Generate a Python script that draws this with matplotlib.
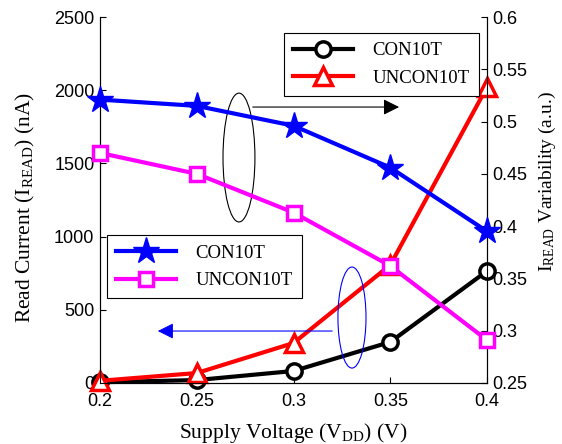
import matplotlib
matplotlib.use("Agg")
import matplotlib.pyplot as plt
from matplotlib.patches import Ellipse

plt.rcParams["font.family"] = "Liberation Sans"
plt.rcParams["mathtext.fontset"] = "custom"
plt.rcParams["mathtext.rm"] = "Liberation Serif"
plt.rcParams["mathtext.it"] = "Liberation Serif:italic"

# supply voltage (V)
vdd = [0.2, 0.25, 0.3, 0.35, 0.4]

# read current (nA), left axis
read_con10t = [5, 20, 82, 280, 765]
read_uncon10t = [15, 68, 273, 806, 2022]

# read current variability (a.u.), right axis
var_con10t = [0.521, 0.515, 0.496, 0.456, 0.395]
var_uncon10t = [0.470, 0.450, 0.413, 0.362, 0.291]

x_ticks = [0.2, 0.25, 0.3, 0.35, 0.4]
x_ticklabels = ["0.2", "0.25", "0.3", "0.35", "0.4"]
left_ticks = [0, 500, 1000, 1500, 2000, 2500]
left_ticklabels = ["0", "500", "1000", "1500", "2000", "2500"]
right_ticks = [0.25, 0.3, 0.35, 0.4, 0.45, 0.5, 0.55, 0.6]
right_ticklabels = ["0.25", "0.3", "0.35", "0.4", "0.45", "0.5", "0.55", "0.6"]

SERIF = "Liberation Serif"

fig = plt.figure(figsize=(5.62, 4.44), dpi=100)
ax = fig.add_axes([0.178, 0.1374, 0.6886, 0.8243])
ax2 = ax.twinx()

l_con, = ax.plot(vdd, read_con10t, "-o", color="black", lw=3, ms=11,
                 mfc="white", mew=2.5, clip_on=False, zorder=3)
l_uncon, = ax.plot(vdd, read_uncon10t, "-^", color="red", lw=3, ms=13,
                   mfc="white", mew=2.5, clip_on=False, zorder=4)
l_vcon, = ax2.plot(vdd, var_con10t, "-*", color="blue", lw=3, ms=20,
                   clip_on=False, zorder=3)
l_vuncon, = ax2.plot(vdd, var_uncon10t, "-s", color="magenta", lw=3, ms=10,
                     mfc="white", mew=2.5, clip_on=False, zorder=3)

ax.set_xlim(0.2, 0.4)
ax.set_ylim(0, 2500)
ax2.set_ylim(0.25, 0.6)
ax.set_xticks(x_ticks)
ax.set_xticklabels(x_ticklabels)
ax.set_yticks(left_ticks)
ax.set_yticklabels(left_ticklabels)
ax2.set_yticks(right_ticks)
ax2.set_yticklabels(right_ticklabels)

ax.tick_params(axis="x", direction="in", length=4, pad=7, labelsize=13)
ax.tick_params(axis="y", direction="in", length=4, pad=4, labelsize=13)
ax2.tick_params(axis="y", direction="in", length=4, pad=4, labelsize=13)
for a in (ax, ax2):
    a.spines["top"].set_visible(False)

ax.set_xlabel(r"Supply Voltage (V$_{\mathrm{DD}}$) (V)", family=SERIF, fontsize=15.5)
ax.set_ylabel(r"Read Current (I$_{\mathrm{READ}}$) (nA)", family=SERIF, fontsize=15.5)
ax2.set_ylabel(r"I$_{\mathrm{READ}}$ Variability (a.u.)", family=SERIF, fontsize=14,
               rotation=90)
ax.xaxis.set_label_coords(0.5, -0.105)
ax.yaxis.set_label_coords(-0.163, 0.48)
ax2.yaxis.set_label_coords(1.13, 0.55)

leg1 = ax2.legend([l_con, l_uncon], ["CON10T", "UNCON10T"], loc="upper left",
                  bbox_to_anchor=(0.4755, 0.9563), borderaxespad=0,
                  prop={"family": SERIF, "size": 13.5}, handlelength=3.2,
                  handletextpad=1.0, labelspacing=0.55, borderpad=0.5,
                  fancybox=False, framealpha=1, edgecolor="black")
leg1.get_frame().set_linewidth(0.8)
ax2.add_artist(leg1)
leg2 = ax2.legend([l_vcon, l_vuncon], ["CON10T", "UNCON10T"], loc="upper left",
                  bbox_to_anchor=(0.018, 0.404), borderaxespad=0,
                  prop={"family": SERIF, "size": 13.5}, handlelength=3.2,
                  handletextpad=1.0, labelspacing=0.55, borderpad=0.5,
                  fancybox=False, framealpha=1, edgecolor="black")
leg2.get_frame().set_linewidth(0.8)

# ellipses and arrows pointing to the matching axis
ax.add_patch(Ellipse((0.2718, 1540), 0.0165, 880, fill=False, ec="black",
                     lw=0.8, zorder=5))
ax.add_patch(Ellipse((0.3302, 447), 0.0145, 690, fill=False, ec="blue",
                     lw=0.8, zorder=5))
ax.annotate("", xy=(0.356, 1885), xytext=(0.2775, 1885),
            arrowprops=dict(arrowstyle="-|>", color="black", lw=0.8,
                            mutation_scale=24), zorder=5)
ax.annotate("", xy=(0.2284, 355), xytext=(0.3214, 355),
            arrowprops=dict(arrowstyle="-|>", color="blue", lw=0.8,
                            mutation_scale=24), zorder=5)

fig.savefig("out.png", dpi=100)
